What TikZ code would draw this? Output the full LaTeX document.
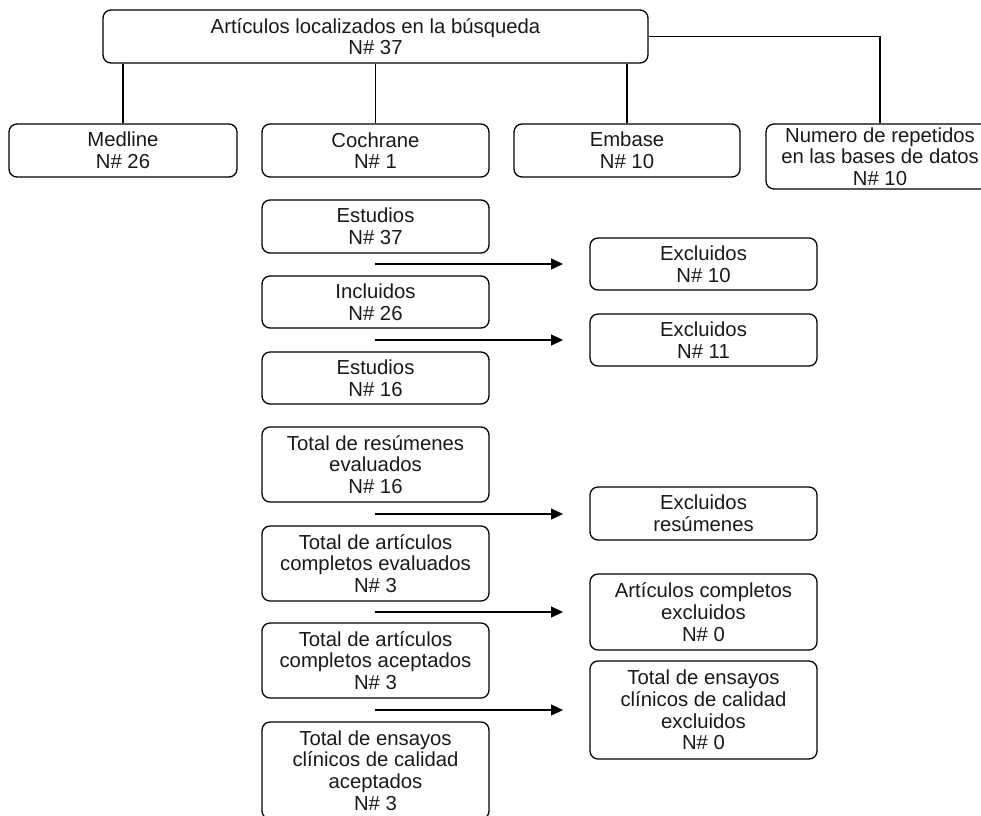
\documentclass[tikz,border=0pt]{standalone}
\usepackage{fontspec}
\setmainfont{Liberation Sans}
\usetikzlibrary{arrows.meta}
\begin{document}
\begin{tikzpicture}[x=1pt,y=-1pt,
  box/.style={draw=black, line width=1.3pt, rounded corners=8pt, align=center, inner sep=0pt,
    font=\fontsize{20.3}{21.7}\selectfont, text=black!90},
  colbox/.style={box, minimum width=227pt},
  conn/.style={draw=black, line width=1.3pt},
  arr/.style={conn, -{Triangle[length=12pt,width=11pt]}}]
\useasboundingbox (0,0) rectangle (981,815);
% top
\node[box, minimum width=545pt, minimum height=53pt] (top) at (375.5,36.5) {Artículos localizados en la búsqueda\\N\# 37};
\node[box, minimum width=228pt, minimum height=53pt] (medline) at (123,150.5) {Medline\\N\# 26};
\node[box, minimum width=227pt, minimum height=53pt] (cochrane) at (375.5,150.5) {Cochrane\\N\# 1};
\node[box, minimum width=226pt, minimum height=53pt] (embase) at (627,150.5) {Embase\\N\# 10};
\node[box, minimum width=228pt, minimum height=65pt] (numero) at (880,156.5) {Numero de repetidos\\en las bases de datos\\N\# 10};
\draw[conn] (top.south -| medline.north) -- (medline.north);
\draw[conn] (top.south -| cochrane.north) -- (cochrane.north);
\draw[conn] (top.south -| embase.north) -- (embase.north);
\draw[conn] (top.east) -| (numero.north);
% left column
\node[colbox, minimum height=53pt] (est1) at (375.5,226.5) {Estudios\\N\# 37};
\node[colbox, minimum height=52pt] (inc) at (375.5,302) {Incluidos\\N\# 26};
\node[colbox, minimum height=52pt] (est2) at (375.5,378) {Estudios\\N\# 16};
\node[colbox, minimum height=75pt] (res) at (375.5,464.5) {Total de resúmenes\\evaluados\\N\# 16};
\node[colbox, minimum height=75pt] (compev) at (375.5,563.5) {Total de artículos\\completos evaluados\\N\# 3};
\node[colbox, minimum height=75pt] (compac) at (375.5,660.5) {Total de artículos\\completos aceptados\\N\# 3};
\node[colbox, minimum height=97pt] (ensac) at (375.5,770.5) {Total de ensayos\\clínicos de calidad\\aceptados\\N\# 3};
% right column
\node[colbox, minimum height=52pt] (ex1) at (703.5,264) {Excluidos\\N\# 10};
\node[colbox, minimum height=52pt] (ex2) at (703.5,340) {Excluidos\\N\# 11};
\node[colbox, minimum height=53pt] (ex3) at (703.5,513.5) {Excluidos\\resúmenes};
\node[colbox, minimum height=76pt] (ex4) at (703.5,612) {Artículos completos\\excluidos\\N\# 0};
\node[colbox, minimum height=98pt] (ex5) at (703.5,710) {Total de ensayos\\clínicos de calidad\\excluidos\\N\# 0};
% arrows
\coordinate (s1) at (375,264); \coordinate (e1) at (563,264);
\coordinate (s2) at (375,340); \coordinate (e2) at (563,340);
\coordinate (s3) at (375,514); \coordinate (e3) at (563,514);
\coordinate (s4) at (375,612); \coordinate (e4) at (563,612);
\coordinate (s5) at (375,710); \coordinate (e5) at (563,710);
\draw[arr] (s1) -- (e1);
\draw[arr] (s2) -- (e2);
\draw[arr] (s3) -- (e3);
\draw[arr] (s4) -- (e4);
\draw[arr] (s5) -- (e5);
\end{tikzpicture}
\end{document}
